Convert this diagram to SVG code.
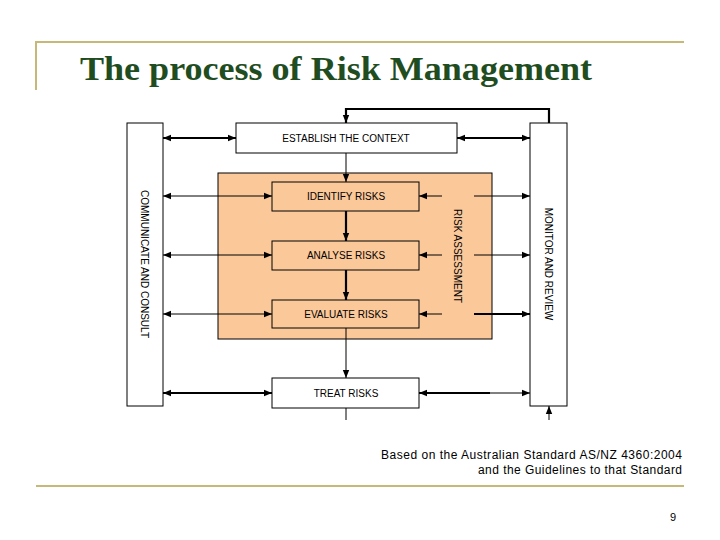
<svg xmlns="http://www.w3.org/2000/svg" width="720" height="540" viewBox="0 0 720 540">
<defs>
<marker id="a" viewBox="0 0 10 10" refX="10" refY="5" markerWidth="8" markerHeight="8" markerUnits="userSpaceOnUse" orient="auto-start-reverse"><path d="M0,1 L10,5 L0,9 Z" fill="#000"/></marker>
</defs>
<style>
.b{fill:#fff;stroke:#000;stroke-width:1}
.o{fill:#fbc89a;stroke:#000;stroke-width:1}
.t{font-family:"Liberation Sans",Arial,sans-serif;font-size:10px;fill:#000;text-anchor:middle}
.c line,.c path{stroke:#000;fill:none;stroke-width:1}
.k{stroke-width:2.2 !important}
</style>
<rect width="720" height="540" fill="#fff"/>
<path d="M36,90 V42 H684" stroke="#c8b878" stroke-width="2" fill="none"/>
<line x1="36" y1="486" x2="684" y2="486" stroke="#c8b878" stroke-width="2"/>
<text x="80" y="80" font-family="Liberation Serif,serif" font-size="33" font-weight="bold" fill="#1f4d1f" textLength="512" lengthAdjust="spacingAndGlyphs">The process of Risk Management</text>
<g id="assessment"><rect class="o" x="218" y="173" width="274" height="166"/><text class="t" transform="translate(454,256) rotate(90)">RISK ASSESSMENT</text></g>
<g id="communicate"><rect class="b" x="127" y="123" width="36" height="283"/><text class="t" transform="translate(141,264) rotate(90)">COMMUNICATE AND CONSULT</text></g>
<g id="monitor"><rect class="b" x="530" y="123" width="37" height="283"/><text class="t" transform="translate(545,264) rotate(90)">MONITOR AND REVIEW</text></g>
<g id="context"><rect class="b" x="236" y="123" width="221" height="30"/><text class="t" x="346" y="142">ESTABLISH THE CONTEXT</text></g>
<g id="identify"><rect class="o" x="272" y="182" width="147" height="29"/><text class="t" x="346" y="200">IDENTIFY RISKS</text></g>
<g id="analyse"><rect class="o" x="272" y="241" width="147" height="29"/><text class="t" x="346" y="259">ANALYSE RISKS</text></g>
<g id="evaluate"><rect class="o" x="272" y="300" width="147" height="28"/><text class="t" x="346" y="318">EVALUATE RISKS</text></g>
<g id="treat"><rect class="b" x="272" y="378" width="147" height="30"/><text class="t" x="346" y="397">TREAT RISKS</text></g>
<g class="c">
<path d="M549,123 V109 H346 V123" marker-end="url(#a)" class="k"/>
<line x1="346" y1="153" x2="346" y2="182" marker-end="url(#a)"/>
<line x1="346" y1="211" x2="346" y2="241" marker-end="url(#a)" class="k"/>
<line x1="346" y1="270" x2="346" y2="300" marker-end="url(#a)" class="k"/>
<line x1="346" y1="328" x2="346" y2="378" marker-end="url(#a)"/>
<line x1="346" y1="408" x2="346" y2="420"/>
<line x1="549" y1="420" x2="549" y2="406" marker-end="url(#a)"/>
<line x1="163" y1="138" x2="236" y2="138" marker-start="url(#a)" marker-end="url(#a)" class="k"/>
<line x1="457" y1="138" x2="530" y2="138" marker-start="url(#a)" marker-end="url(#a)" class="k"/>
<line x1="163" y1="196" x2="272" y2="196" marker-start="url(#a)" marker-end="url(#a)"/>
<line x1="163" y1="255" x2="272" y2="255" marker-start="url(#a)" marker-end="url(#a)"/>
<line x1="163" y1="314" x2="272" y2="314" marker-start="url(#a)" marker-end="url(#a)"/>
<line x1="163" y1="393" x2="272" y2="393" marker-start="url(#a)" marker-end="url(#a)" class="k"/>
<line x1="442" y1="196" x2="419" y2="196" marker-end="url(#a)"/>
<line x1="442" y1="255" x2="419" y2="255" marker-end="url(#a)"/>
<line x1="442" y1="314" x2="419" y2="314" marker-end="url(#a)"/>
<line x1="474" y1="196" x2="530" y2="196" marker-end="url(#a)"/>
<line x1="474" y1="255" x2="530" y2="255" marker-end="url(#a)"/>
<line x1="474" y1="314" x2="530" y2="314" marker-end="url(#a)" class="k"/>
<line x1="490" y1="393" x2="419" y2="393" marker-end="url(#a)" class="k"/>
<line x1="490" y1="393" x2="530" y2="393" marker-end="url(#a)"/>
</g>
<text x="682" y="459" font-family="Liberation Sans,Arial,sans-serif" font-size="12" text-anchor="end" textLength="301">Based on the Australian Standard AS/NZ 4360:2004</text>
<text x="682" y="474" font-family="Liberation Sans,Arial,sans-serif" font-size="12" text-anchor="end" textLength="204">and the Guidelines to that Standard</text>
<text x="676" y="521" font-family="Liberation Sans,Arial,sans-serif" font-size="11" text-anchor="end">9</text>
</svg>
